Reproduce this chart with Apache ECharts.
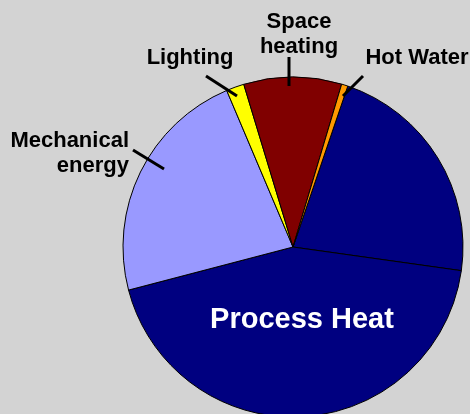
<!DOCTYPE html>
<html>
<head>
<meta charset="utf-8">
<script src="https://cdn.jsdelivr.net/npm/echarts@6/dist/echarts.min.js"></script>
<style>
  html, body { margin: 0; padding: 0; background: #d3d3d3; }
  #chart { width: 470px; height: 414px; }
</style>
</head>
<body>
<div id="chart"></div>
<script>
// slices, clockwise from the right-hand navy wedge
const categories = ['Process Heat (other)', 'Process Heat', 'Mechanical\nenergy', 'Lighting', 'Space\nheating', 'Hot Water'];
const shares = [22.0, 43.7, 22.7, 1.7, 9.3, 0.6];
const colors = ['#000080', '#000080', '#9999ff', '#ffff00', '#800000', '#ff9900'];

// label placement per slice (text anchor + leader line ends)
const labelSpots = {
  1: {x: 302, y: 320, align: 'center', verticalAlign: 'middle'},
  2: {x: 129, y: 153, align: 'right', verticalAlign: 'middle', line: [133, 150, 164, 169]},
  3: {x: 190, y: 58, align: 'center', verticalAlign: 'middle', line: [206, 76, 237, 96]},
  4: {x: 299, y: 34, align: 'center', verticalAlign: 'middle', line: [289, 57, 289, 86]},
  5: {x: 417, y: 58, align: 'center', verticalAlign: 'middle', line: [363, 76, 343, 96]}
};

const chart = echarts.init(document.getElementById('chart'));

const data = categories.map((name, i) => {
  const item = {name, value: shares[i], itemStyle: {color: colors[i]}};
  if (i === 0) {
    item.label = {show: false};
  } else if (i === 1) {
    item.label = {color: '#ffffff', fontSize: 29, position: 'inside'};
  }
  return item;
});

// leader lines drawn on top of the pie
const leaders = Object.values(labelSpots).filter(s => s.line).map(s => ({
  type: 'line',
  z: 100,
  shape: {x1: s.line[0], y1: s.line[1], x2: s.line[2], y2: s.line[3]},
  style: {stroke: '#000000', lineWidth: 3}
}));

chart.setOption({
  backgroundColor: '#d3d3d3',
  animation: false,
  graphic: leaders,
  series: [{
    type: 'pie',
    center: [293, 247],
    radius: 170,
    startAngle: 71.2,
    clockwise: true,
    avoidLabelOverlap: false,
    data,
    itemStyle: {borderColor: '#000000', borderWidth: 1},
    label: {
      show: true,
      formatter: '{b}',
      fontFamily: 'Liberation Sans, Arial, sans-serif',
      fontWeight: 'bold',
      fontSize: 22,
      lineHeight: 25,
      color: '#000000'
    },
    labelLine: {show: false},
    labelLayout: params => {
      const s = labelSpots[params.dataIndex];
      return s ? {x: s.x, y: s.y, align: s.align, verticalAlign: s.verticalAlign} : {};
    }
  }]
});
</script>
</body>
</html>
